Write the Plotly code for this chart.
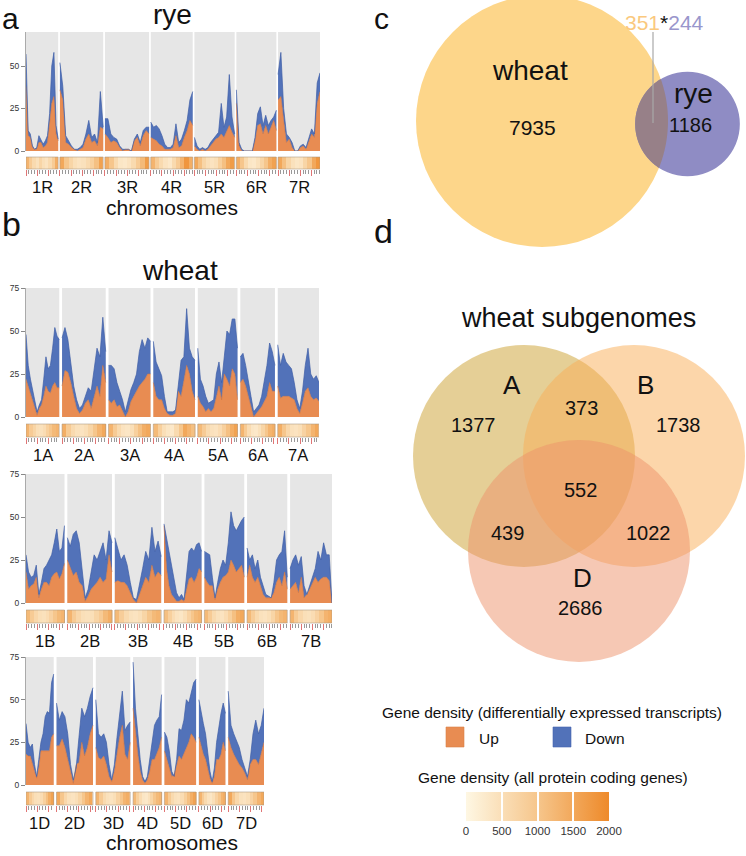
import numpy as np
import plotly.graph_objects as go

W, H = 746, 856
FONT = "Liberation Sans, Arial, sans-serif"

# ------------------------------------------------------------------ data
rye_chroms = ["1R", "2R", "3R", "4R", "5R", "6R", "7R"]
rye_len = [580, 780, 795, 755, 725, 720, 755]
rye_up = [
    [38, 9, 8, 2, 1, 1, 5, 5, 2, 3, 5, 15, 28, 32, 10, 6],
    [36, 30, 5, 4, 2, 1, 0, 1, 2, 7, 10, 5, 6, 3, 14, 13],
    [10, 8, 5, 6, 5, 2, 0, 1, 1, 0, 6, 8, 3, 9, 12, 10],
    [8, 7, 6, 4, 3, 1, 1, 1, 2, 9, 2, 3, 8, 12, 18, 15],
    [3, 1, 0, 1, 0, 1, 3, 5, 7, 8, 10, 8, 12, 15, 11, 8],
    [28, 3, 0, 0, 0, 0, 0, 6, 15, 16, 10, 15, 10, 14, 18, 12],
    [30, 32, 18, 5, 7, 2, 0, 0, 2, 3, 1, 6, 10, 8, 28, 35],
]
rye_total = [
    [57, 12, 10, 3, 1, 2, 9, 6, 4, 6, 9, 22, 50, 58, 15, 7],
    [52, 38, 9, 6, 3, 1, 1, 2, 4, 10, 18, 8, 10, 5, 35, 14],
    [19, 19, 10, 8, 7, 3, 1, 1, 1, 0, 7, 10, 5, 12, 14, 14],
    [17, 14, 15, 13, 9, 4, 2, 2, 4, 16, 5, 7, 12, 18, 30, 35],
    [8, 3, 1, 2, 1, 2, 5, 7, 9, 11, 28, 14, 20, 45, 20, 10],
    [36, 5, 1, 0, 0, 0, 0, 8, 22, 26, 15, 21, 15, 18, 20, 24],
    [45, 58, 25, 10, 8, 5, 0, 0, 3, 4, 2, 8, 13, 10, 40, 46],
]
rye_density = [
    [1300, 900, 600, 450, 700, 500, 400, 600, 900, 1400],
    [1500, 1000, 700, 500, 400, 450, 600, 800, 1100, 1600],
    [1400, 1000, 600, 350, 300, 400, 600, 900, 1200, 1700],
    [1300, 900, 600, 400, 300, 600, 900, 1300, 1800, 1400],
    [1500, 1100, 700, 500, 400, 500, 800, 1100, 1500, 1700],
    [1400, 1000, 600, 350, 300, 450, 700, 1000, 1400, 1600],
    [1500, 1100, 700, 450, 350, 400, 700, 1000, 1500, 1800],
]

wheatA_chroms = ["1A", "2A", "3A", "4A", "5A", "6A", "7A"]
wheatA_len = [594, 780, 750, 744, 710, 618, 737]
wheatA_up = [
    [22, 18, 14, 10, 5, 1, 5, 7, 12, 18, 15, 14, 18, 20, 17, 17],
    [18, 27, 26, 20, 12, 5, 2, 4, 8, 10, 5, 12, 18, 12, 30, 20],
    [10, 8, 10, 6, 7, 3, 0, 3, 9, 12, 15, 18, 20, 22, 25, 25],
    [20, 12, 10, 10, 5, 2, 1, 1, 2, 15, 12, 20, 30, 25, 15, 10],
    [12, 8, 6, 3, 5, 3, 5, 12, 18, 10, 25, 22, 18, 28, 25, 10],
    [20, 22, 18, 12, 5, 0, 2, 4, 6, 9, 12, 20, 15, 15],
    [18, 11, 12, 12, 12, 11, 10, 5, 2, 8, 15, 17, 12, 10, 11, 9],
]
wheatA_total = [
    [48, 30, 22, 15, 8, 3, 7, 10, 22, 35, 28, 30, 40, 52, 47, 45],
    [46, 52, 45, 30, 18, 10, 5, 7, 12, 17, 15, 28, 40, 35, 58, 38],
    [30, 30, 28, 20, 15, 10, 3, 10, 16, 20, 25, 38, 45, 40, 46, 44],
    [44, 32, 28, 24, 12, 3, 3, 3, 4, 20, 33, 35, 63, 40, 35, 33],
    [40, 22, 18, 12, 8, 9, 10, 25, 32, 20, 35, 50, 48, 57, 57, 40],
    [35, 37, 30, 22, 12, 3, 5, 7, 12, 20, 30, 43, 38, 30],
    [42, 30, 37, 32, 30, 28, 20, 10, 5, 15, 30, 40, 25, 22, 24, 20],
]
wheatA_density = [
    [1300, 900, 700, 500, 450, 550, 800, 1000, 1200, 1300],
    [1400, 900, 600, 450, 400, 500, 700, 1000, 1300, 1500],
    [1300, 900, 600, 400, 350, 500, 800, 1100, 1400, 1500],
    [1200, 800, 500, 350, 300, 600, 1000, 1500, 1300, 1100],
    [1200, 900, 600, 450, 400, 550, 800, 1100, 1400, 1600],
    [1300, 900, 550, 350, 300, 450, 700, 1000, 1300, 1400],
    [1400, 1000, 650, 450, 400, 500, 750, 1000, 1300, 1500],
]

wheatB_chroms = ["1B", "2B", "3B", "4B", "5B", "6B", "7B"]
wheatB_len = [690, 801, 831, 674, 714, 721, 751]
wheatB_up = [
    [18, 8, 10, 11, 15, 3, 8, 12, 12, 10, 15, 17, 18, 14, 17, 23],
    [25, 20, 16, 18, 12, 10, 1, 4, 8, 10, 12, 15, 12, 14, 28, 18],
    [12, 13, 12, 12, 10, 6, 2, 0, 5, 10, 15, 12, 22, 15, 18, 16],
    [45, 20, 10, 5, 3, 1, 1, 2, 1, 8, 14, 15, 12, 15, 20, 18],
    [15, 12, 10, 10, 2, 8, 12, 15, 16, 18, 25, 22, 18, 20, 22, 15],
    [15, 22, 15, 12, 15, 10, 5, 3, 3, 3, 6, 12, 15, 10, 18, 8],
    [8, 10, 12, 6, 15, 3, 5, 8, 12, 15, 12, 14, 15, 15, 13, 0],
]
wheatB_total = [
    [28, 18, 15, 16, 22, 5, 12, 20, 22, 25, 28, 35, 43, 30, 32, 45],
    [38, 33, 40, 42, 35, 20, 3, 8, 18, 28, 25, 30, 35, 25, 42, 35],
    [38, 32, 25, 28, 22, 12, 3, 2, 10, 20, 30, 25, 44, 30, 36, 27],
    [46, 38, 28, 20, 12, 6, 3, 5, 2, 15, 30, 32, 30, 34, 35, 30],
    [30, 29, 28, 15, 3, 12, 20, 25, 22, 35, 53, 45, 42, 45, 48, 50],
    [32, 25, 28, 20, 25, 15, 10, 5, 4, 3, 12, 25, 28, 30, 42, 15],
    [20, 25, 28, 22, 27, 10, 5, 10, 14, 20, 30, 25, 35, 28, 28, 0],
]
wheatB_density = [
    [1200, 900, 650, 500, 450, 550, 750, 1000, 1200, 1300],
    [1300, 900, 650, 500, 450, 500, 700, 900, 1200, 1400],
    [1200, 850, 600, 450, 400, 500, 700, 1000, 1200, 1300],
    [1100, 800, 550, 400, 350, 500, 750, 1000, 1200, 1300],
    [1200, 900, 600, 450, 400, 550, 800, 1100, 1400, 1500],
    [1200, 850, 600, 450, 400, 500, 700, 1000, 1200, 1300],
    [1300, 900, 650, 500, 450, 550, 750, 1000, 1300, 1400],
]

wheatD_chroms = ["1D", "2D", "3D", "4D", "5D", "6D", "7D"]
wheatD_len = [495, 652, 616, 510, 566, 474, 639]
wheatD_up = [
    [18, 17, 17, 12, 8, 4, 10, 20, 20, 20, 20, 20, 28, 30],
    [23, 23, 27, 22, 15, 8, 1, 12, 13, 25, 17, 22, 30, 35],
    [22, 16, 15, 17, 12, 5, 2, 8, 18, 28, 35, 18, 15, 25],
    [45, 30, 18, 8, 3, 1, 3, 8, 15, 15, 18, 22, 28],
    [20, 15, 10, 5, 6, 12, 17, 15, 18, 22, 25, 30, 28, 25],
    [28, 22, 18, 15, 10, 4, 1, 5, 15, 15, 18, 25, 20],
    [28, 22, 18, 15, 12, 10, 7, 3, 12, 15, 15, 12, 18, 25],
]
wheatD_total = [
    [36, 25, 22, 24, 12, 5, 15, 25, 30, 40, 43, 42, 60, 65],
    [48, 38, 43, 40, 30, 12, 3, 10, 28, 45, 40, 45, 52, 57],
    [50, 30, 28, 30, 25, 12, 3, 12, 28, 42, 55, 32, 35, 37],
    [72, 45, 30, 15, 5, 2, 5, 15, 25, 35, 38, 40, 53],
    [31, 28, 20, 8, 5, 15, 33, 32, 38, 50, 48, 55, 60, 62],
    [50, 42, 36, 30, 18, 8, 2, 10, 25, 35, 42, 48, 42],
    [55, 35, 30, 26, 22, 15, 10, 5, 15, 30, 38, 30, 35, 45],
]
wheatD_density = [
    [1300, 900, 650, 500, 450, 550, 800, 1100, 1400, 1600],
    [1500, 1000, 650, 450, 400, 500, 700, 1000, 1300, 1500],
    [1300, 900, 600, 450, 400, 500, 750, 1000, 1300, 1400],
    [1200, 800, 550, 350, 300, 450, 700, 1000, 1200, 1300],
    [1300, 900, 600, 450, 400, 550, 800, 1100, 1400, 1600],
    [1300, 900, 600, 400, 350, 500, 750, 1000, 1300, 1400],
    [1500, 1000, 650, 450, 400, 500, 750, 1000, 1300, 1500],
]

venn_c_labels = ["wheat", "rye"]
venn_c_only = [7935, 1186]
venn_c_shared = [351, 244]

venn_d_sets = ["A", "B", "D"]
venn_d_only = [1377, 1738, 2686]
venn_d_AB, venn_d_AD, venn_d_BD, venn_d_ABD = 373, 439, 1022, 552

legend_items = ["Up", "Down"]
density_ticks = [0, 500, 1000, 1500, 2000]

# ------------------------------------------------------------------ styles
UP_FILL, UP_LINE = "#E88C52", "#D2743C"
DN_FILL, DN_LINE = "#5272B9", "#3E5DA6"
BG_GREY = "#E6E6E6"


def ax(n):
    return "" if n == 1 else str(n)


def fx(px):
    return px / W


def fy(py):
    return 1 - py / H


rows = [
    dict(chroms=rye_chroms, lens=rye_len, up=rye_up, total=rye_total, dens=rye_density,
         x0=26, x1=320, area=(32, 151), heat=(157, 169), ymax=70, yt=[0, 25, 50], lab=187, gap=1.7),
    dict(chroms=wheatA_chroms, lens=wheatA_len, up=wheatA_up, total=wheatA_total, dens=wheatA_density,
         x0=26, x1=319, area=(288, 417), heat=(424, 437), ymax=75, yt=[0, 25, 50, 75], lab=455, gap=2.8),
    dict(chroms=wheatB_chroms, lens=wheatB_len, up=wheatB_up, total=wheatB_total, dens=wheatB_density,
         x0=26, x1=332, area=(474, 603), heat=(610, 623), ymax=75, yt=[0, 25, 50, 75], lab=641, gap=2.8),
    dict(chroms=wheatD_chroms, lens=wheatD_len, up=wheatD_up, total=wheatD_total, dens=wheatD_density,
         x0=26, x1=264, area=(657, 785), heat=(792, 805), ymax=75, yt=[0, 25, 50, 75], lab=823, gap=2.8),
]

fig = go.Figure()
layout = {}
shapes = []
annotations = []
VA = 9  # axis for venn / free drawing, in pixel units

for i, r in enumerate(rows):
    a_n, h_n = 2 * i + 1, 2 * i + 2
    lens = r["lens"]
    wpx = r["x1"] - r["x0"]
    scale = (wpx - 6 * r["gap"]) / sum(lens)
    gap_mb = r["gap"] / scale
    offs = np.concatenate([[0], np.cumsum(np.array(lens) + gap_mb)[:-1]])
    span = sum(lens) + 6 * gap_mb

    for k, name in enumerate(r["chroms"]):
        off, L = offs[k], lens[k]
        up, tot = r["up"][k], r["total"][k]
        xs = off + np.linspace(0, L, len(up))
        fig.add_trace(go.Scatter(x=xs, y=up, mode="lines", line=dict(color=UP_LINE, width=0.6),
                                 fill="tozeroy", fillcolor=UP_FILL, xaxis="x" + ax(a_n), yaxis="y" + ax(a_n),
                                 hoverinfo="skip", showlegend=False))
        fig.add_trace(go.Scatter(x=xs, y=tot, mode="lines", line=dict(color=DN_LINE, width=0.7),
                                 fill="tonexty", fillcolor=DN_FILL, xaxis="x" + ax(a_n), yaxis="y" + ax(a_n),
                                 hoverinfo="skip", showlegend=False))
        shapes.append(dict(type="rect", xref="x" + ax(a_n), yref="y" + ax(a_n) + " domain",
                           x0=off, x1=off + L, y0=0, y1=1, fillcolor=BG_GREY, line=dict(width=0), layer="below"))
        d = r["dens"][k]
        edges = off + np.linspace(0, L, len(d) + 1)
        fig.add_trace(go.Heatmap(z=[d], x=edges, y=[0, 1], coloraxis="coloraxis",
                                 xaxis="x" + ax(h_n), yaxis="y" + ax(h_n), hoverinfo="skip"))
        shapes.append(dict(type="rect", xref="x" + ax(h_n), yref="y" + ax(h_n) + " domain",
                           x0=off, x1=off + L, y0=0, y1=1, fillcolor="rgba(0,0,0,0)",
                           line=dict(color="rgba(170,150,130,0.8)", width=0.7), layer="above"))
        annotations.append(dict(xref="x" + ax(h_n), yref="y" + ax(VA), x=off + L / 2, y=r["lab"],
                                text=name, showarrow=False, font=dict(size=16.5, color="#111"),
                                xanchor="center", yanchor="middle"))

    major = [off + m for off, L in zip(offs, lens) for m in range(0, int(L) + 1, 200)]
    minor = [off + m for off, L in zip(offs, lens) for m in range(0, int(L) + 1, 50)]

    layout["xaxis" + ax(a_n)] = dict(domain=[fx(r["x0"]), fx(r["x1"])], range=[0, span], visible=False,
                                     anchor="y" + ax(a_n))
    layout["yaxis" + ax(a_n)] = dict(domain=[fy(r["area"][1]), fy(r["area"][0])], range=[0, r["ymax"]],
                                     anchor="x" + ax(a_n), tickvals=r["yt"], ticks="outside", ticklen=4,
                                     tickcolor="#888", showline=True, linecolor="#aaa", linewidth=1,
                                     showgrid=False, zeroline=False, tickfont=dict(size=8.5, color="#333"))
    layout["xaxis" + ax(h_n)] = dict(domain=[fx(r["x0"]), fx(r["x1"])], range=[0, span], anchor="y" + ax(h_n),
                                     showgrid=False, zeroline=False, showline=False, showticklabels=False,
                                     tickvals=major, ticks="outside", ticklen=6, tickcolor="#E07575", tickwidth=0.8,
                                     minor=dict(tickvals=minor, ticks="outside", ticklen=3.5, tickcolor="#999",
                                                tickwidth=0.6))
    layout["yaxis" + ax(h_n)] = dict(domain=[fy(r["heat"][1]), fy(r["heat"][0])], range=[0, 1],
                                     anchor="x" + ax(h_n), visible=False)

layout["xaxis" + ax(VA)] = dict(domain=[0, 1], range=[0, W], visible=False, anchor="y" + ax(VA))
layout["yaxis" + ax(VA)] = dict(domain=[0, 1], range=[H, 0], visible=False, anchor="x" + ax(VA))
XR, YR = "x" + ax(VA), "y" + ax(VA)


def txt(x, y, s, size, color="#111", anchor="center", yanchor="middle"):
    annotations.append(dict(xref=XR, yref=YR, x=x, y=y, text=s, showarrow=False,
                            font=dict(size=size, color=color), xanchor=anchor, yanchor=yanchor))


def circ(cx, cy, rad, color):
    shapes.append(dict(type="circle", xref=XR, yref=YR, x0=cx - rad, x1=cx + rad, y0=cy - rad, y1=cy + rad,
                       fillcolor=color, line=dict(width=0), layer="below"))


# ---------------- panel c (area-proportional)
tot_w = venn_c_only[0] + venn_c_shared[0]
tot_r = venn_c_only[1] + venn_c_shared[1]
k_r = 126 / np.sqrt(tot_w)
r1, r2 = k_r * np.sqrt(tot_w), k_r * np.sqrt(tot_r)
c1, c2 = np.array([542.0, 121.0]), np.array([687.5, 124.0])
circ(*c1, r1, "#FDD68A")
circ(*c2, r2, "#8F8CC4")
th = np.linspace(0, 2 * np.pi, 721)
p1 = np.c_[c1[0] + r1 * np.cos(th), c1[1] + r1 * np.sin(th)]
p2 = np.c_[c2[0] + r2 * np.cos(th), c2[1] + r2 * np.sin(th)]
lens_pts = np.vstack([p1[np.hypot(*(p1 - c2).T) <= r2], p2[np.hypot(*(p2 - c1).T) <= r1]])
cen = lens_pts.mean(axis=0)
lens_pts = lens_pts[np.argsort(np.arctan2(lens_pts[:, 1] - cen[1], lens_pts[:, 0] - cen[0]))]
path = "M " + " L ".join(f"{x:.2f},{y:.2f}" for x, y in lens_pts) + " Z"
shapes.append(dict(type="path", xref=XR, yref=YR, path=path, fillcolor="#978088", line=dict(width=0),
                   layer="below"))
shapes.append(dict(type="line", xref=XR, yref=YR, x0=653, x1=653, y0=32, y1=123,
                   line=dict(color="#A8A8A8", width=1.2)))
txt(530, 70, venn_c_labels[0], 28)
txt(532, 127, str(venn_c_only[0]), 21)
txt(693, 93, venn_c_labels[1], 28)
txt(690, 125, str(venn_c_only[1]), 20)
txt(664, 22, f"<span style='color:#FAC97E'>{venn_c_shared[0]}</span>*"
             f"<span style='color:#9996CC'>{venn_c_shared[1]}</span>", 21)

# ---------------- panel d
circ(524, 456, 111, "rgba(204,160,46,0.5)")
circ(634, 456, 111, "rgba(249,173,85,0.5)")
circ(579, 551, 111, "rgba(237,145,105,0.5)")
txt(578, 318, "wheat subgenomes", 27)
txt(512, 385, venn_d_sets[0], 26)
txt(645, 385, venn_d_sets[1], 26)
txt(582, 578, venn_d_sets[2], 26)
txt(473, 425, str(venn_d_only[0]), 20)
txt(678, 425, str(venn_d_only[1]), 20)
txt(580, 608, str(venn_d_only[2]), 20)
txt(581, 408, str(venn_d_AB), 20)
txt(507, 533, str(venn_d_AD), 20)
txt(648, 533, str(venn_d_BD), 20)
txt(580, 490, str(venn_d_ABD), 20)

# ---------------- titles & panel letters
txt(0, 0, "a", 30, anchor="left", yanchor="top")
txt(0, 224, "b", 34, anchor="left")
txt(372, 0, "c", 30, anchor="left", yanchor="top")
txt(372, 231, "d", 34, anchor="left")
txt(172, 14, "rye", 28)
txt(172, 207, "chromosomes", 21)
txt(180, 270, "wheat", 28)
txt(172, 842, "chromosomes", 21)

# ---------------- legend
txt(552, 712, "Gene density (differentially expressed transcripts)", 15.5)
shapes.append(dict(type="rect", xref=XR, yref=YR, x0=446, x1=464, y0=727, y1=747, fillcolor=UP_FILL,
                   line=dict(color="#D88048", width=0.6)))
shapes.append(dict(type="rect", xref=XR, yref=YR, x0=553, x1=571, y0=727, y1=747, fillcolor=DN_FILL,
                   line=dict(color="#4463AE", width=0.6)))
txt(477, 738, legend_items[0], 15.5, anchor="left")
txt(583, 738, legend_items[1], 15.5, anchor="left")
txt(553, 777, "Gene density (all protein coding genes)", 15.5)

layout["coloraxis"] = dict(
    cmin=density_ticks[0], cmax=density_ticks[-1],
    colorscale=[[0, "#FEF7E3"], [0.5, "#F6C68C"], [1, "#EE8A2A"]],
    colorbar=dict(orientation="h", x=fx(537.5), xanchor="center", y=fy(792), yanchor="top",
                  len=143, lenmode="pixels", thickness=29, thicknessmode="pixels",
                  outlinewidth=0, xpad=0, ypad=0, tickvals=density_ticks, ticks="inside", ticklen=29,
                  tickcolor="white", tickwidth=1.5, tickfont=dict(size=11.5, color="#333")))

fig.update_layout(
    width=W, height=H, margin=dict(l=0, r=0, t=0, b=0, autoexpand=False),
    paper_bgcolor="white", plot_bgcolor="rgba(0,0,0,0)",
    font=dict(family=FONT, color="#111"),
    shapes=shapes, annotations=annotations, showlegend=False,
    **layout,
)

fig.write_html("out.html")
